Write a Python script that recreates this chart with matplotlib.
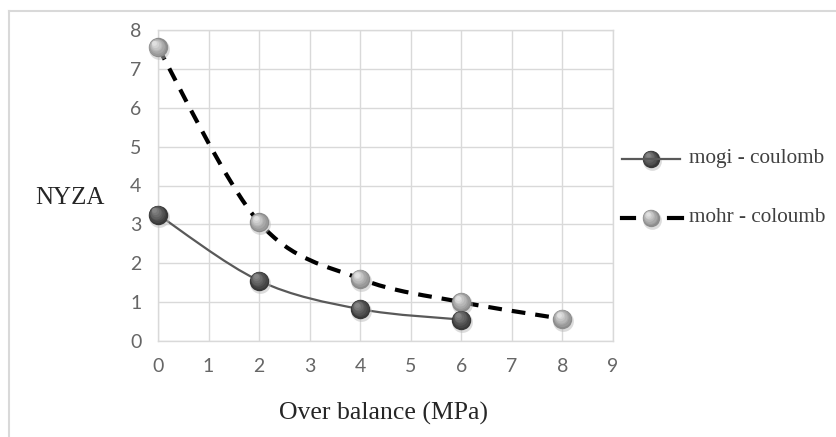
import numpy as np
import matplotlib
matplotlib.use("Agg")
import matplotlib.pyplot as plt
from matplotlib.path import Path
from matplotlib.patches import PathPatch
from matplotlib.lines import Line2D
import matplotlib.transforms as mtransforms

# Data
mogi_x = [0, 2, 4, 6]
mogi_y = [3.25, 1.55, 0.82, 0.55]
mohr_x = [0, 2, 4, 6, 8]
mohr_y = [7.55, 3.05, 1.6, 1.0, 0.57]
x_ticks = list(range(0, 10))
y_ticks = list(range(0, 9))
series_names = ["mogi - coulomb", "mohr - coloumb"]

fig = plt.figure(figsize=(8.37, 4.37), dpi=100)
ax = fig.add_axes([158/837, 1-341/437, (613-158)/837, (341-30)/437])

def smooth_path(xs, ys, tension=1/6):
    pts = np.column_stack([xs, ys]).astype(float)
    n = len(pts)
    verts = [pts[0]]
    codes = [Path.MOVETO]
    for i in range(n-1):
        p0 = pts[i-1] if i > 0 else pts[i]
        p1 = pts[i]
        p2 = pts[i+1]
        p3 = pts[i+2] if i+2 < n else pts[i+1]
        c1 = p1 + (p2 - p0) * tension
        c2 = p2 - (p3 - p1) * tension
        verts += [c1, c2, p2]
        codes += [Path.CURVE4]*3
    return Path(verts, codes)

def draw_smooth(xs, ys, **kw):
    disp = ax.transData.transform(np.column_stack([xs, ys]))
    p = smooth_path(disp[:, 0], disp[:, 1])
    patch = PathPatch(p, fill=False, transform=mtransforms.IdentityTransform(), **kw)
    ax.add_patch(patch)

ax.set_xlim(0, 9)
ax.set_ylim(0, 8)
ax.set_xticks(x_ticks)
ax.set_yticks(y_ticks)
ax.grid(True, color="#d9d9d9", linewidth=1)
ax.set_axisbelow(True)
for s in ax.spines.values():
    s.set_color("#d9d9d9")
    s.set_linewidth(1)
ax.tick_params(length=0, pad=12, labelsize=14, labelcolor="#666666")
for lab in ax.get_xticklabels() + ax.get_yticklabels():
    lab.set_fontfamily("Lato")

fig.canvas.draw()

DASH = (0, (3.3, 2.4))
draw_smooth(mogi_x, mogi_y, edgecolor="#595959", linewidth=1.6, zorder=3)
draw_smooth(mohr_x, mohr_y, edgecolor="black", linewidth=3, linestyle=DASH, zorder=3)

def sphere(xs, ys, base, light, ms=14, trans=ax.transData, zo=5):
    sh = trans + mtransforms.ScaledTranslation(1/100, -2/100, fig.dpi_scale_trans)
    ax.plot(xs, ys, 'o', ms=ms+1, color="#bbbbbb", alpha=0.5, mec='none', transform=sh, zorder=zo-1, clip_on=False)
    ax.plot(xs, ys, 'o', ms=ms, color=base, mec='none', zorder=zo, clip_on=False, transform=trans)
    steps = 6
    for k in range(steps):
        f = (k+1)/steps
        size = ms*(1-0.75*f)
        off = mtransforms.ScaledTranslation(-ms*0.18*f/72, ms*0.22*f/72, fig.dpi_scale_trans)
        c = np.array(matplotlib.colors.to_rgb(base))*(1-f) + np.array(matplotlib.colors.to_rgb(light))*f
        ax.plot(xs, ys, 'o', ms=size, color=c, mec='none', transform=trans+off, zorder=zo+0.1*(k+1), clip_on=False)

sphere(mogi_x, mogi_y, "#383838", "#858585")
sphere(mohr_x, mohr_y, "#8c8c8c", "#e0e0e0")

fig.text(384/837, 1-413/437, "Over balance (MPa)", fontfamily="Liberation Serif", fontsize=18.5,
         color="#262626", ha="center", va="center")
fig.text(70/837, 1-198/437, "NYZA", fontfamily="Liberation Serif", fontsize=18,
         color="#262626", ha="center", va="center")

# Legend (manual)
for i, (name, yy) in enumerate(zip(series_names, [159, 218])):
    yf = 1 - yy/437
    if i == 0:
        fig.add_artist(Line2D([622/837, 680/837], [yf, yf], color="#595959", lw=1.6))
    else:
        fig.add_artist(Line2D([622/837, 634/837], [yf, yf], color="black", lw=3))
        fig.add_artist(Line2D([669/837, 682/837], [yf, yf], color="black", lw=3))
    fig.text(689/837, yf, name, fontfamily="Liberation Serif", fontsize=15.3, color="#404040",
             va="center", ha="left")

sphere([651/837], [1-159/437], "#383838", "#858585", ms=12.5, trans=fig.transFigure, zo=10)
sphere([651/837], [1-218/437], "#8c8c8c", "#e0e0e0", ms=12.5, trans=fig.transFigure, zo=10)

# outer frame
fig.add_artist(Line2D([9/837, 9/837], [0, 1-11/437], color="#d9d9d9", lw=1.5))
fig.add_artist(Line2D([9/837, 1], [1-11/437, 1-11/437], color="#d9d9d9", lw=1.5))

fig.savefig("out.png", dpi=100)
